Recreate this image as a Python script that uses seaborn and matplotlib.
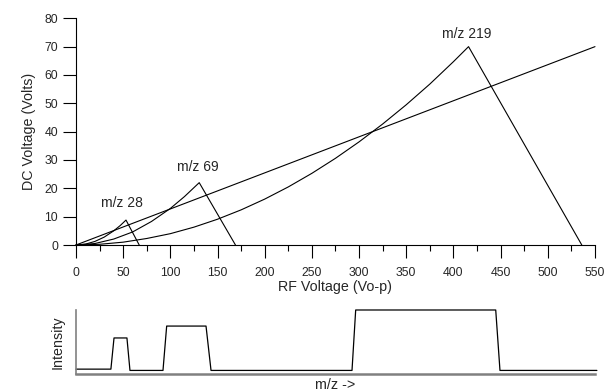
import matplotlib
matplotlib.use("Agg")
import matplotlib.pyplot as plt
import seaborn as sb
from matplotlib.ticker import MultipleLocator

# straight scan line
scan_x = [0, 550]
scan_y = [0, 70]

# stability regions (left edge curved, right edge straight)
mz28_x = [0, 10, 20, 30, 40, 47, 53, 67]
mz28_y = [0, 0.31, 1.25, 2.8, 5.0, 6.9, 8.8, 0]

mz69_x = [0, 20, 40, 60, 80, 100, 115, 130.6, 169]
mz69_y = [0, 0.52, 2.1, 4.6, 8.3, 12.9, 17.1, 22, 0]

mz219_x = [0, 25, 50, 75, 100, 125, 150, 175, 200, 225, 250, 275, 300, 325,
           350, 375, 400, 416, 536]
mz219_y = [0, 0.25, 1.0, 2.3, 4.0, 6.3, 9.1, 12.4, 16.2, 20.5, 25.3, 30.6,
           36.4, 42.7, 49.5, 56.8, 64.7, 70, 0]

labels = ["m/z 28", "m/z 69", "m/z 219"]
label_x = [49, 129, 414]
label_y = [14.8, 27.5, 74.5]

# mass spectrum trace
spec_x = [0, 37, 40.3, 54, 57.2, 92.2, 96.1, 137.8, 143.1, 292.5, 296.4,
          444.8, 449.3, 552]
spec_y = [0.08, 0.08, 0.565, 0.565, 0.06, 0.06, 0.75, 0.75, 0.06, 0.06,
          1.0, 1.0, 0.06, 0.06]


def main():
    sb.set_style("ticks")
    plt.rcParams["font.family"] = ["Liberation Sans", "DejaVu Sans"]
    fig = plt.figure(figsize=(6.04, 3.92), dpi=100)

    ax = fig.add_axes([0.1258, 0.375, 0.8593, 0.5783])
    for xs, ys in [(scan_x, scan_y), (mz28_x, mz28_y), (mz69_x, mz69_y),
                   (mz219_x, mz219_y)]:
        sb.lineplot(x=xs, y=ys, ax=ax, color="black", linewidth=0.8,
                    sort=False, estimator=None, clip_on=False)
    for t, x, y in zip(labels, label_x, label_y):
        ax.text(x, y, t, ha="center", va="center", fontsize=10)

    ax.set_xlim(0, 550)
    ax.set_ylim(0, 80)
    ax.xaxis.set_major_locator(MultipleLocator(50))
    ax.xaxis.set_minor_locator(MultipleLocator(25))
    ax.yaxis.set_major_locator(MultipleLocator(10))
    ax.tick_params(axis="x", which="major", length=9, width=0.8, pad=6.5,
                   labelsize=8.8, color="black")
    ax.tick_params(axis="x", which="minor", length=4.5, width=0.8, color="black")
    ax.tick_params(axis="y", which="major", length=9.4, width=0.8, pad=3.5,
                   labelsize=8.8, color="black")
    for s in ["top", "right"]:
        ax.spines[s].set_visible(False)
    for s in ["left", "bottom"]:
        ax.spines[s].set_linewidth(0.8)
        ax.spines[s].set_color("black")
    ax.set_xlabel("RF Voltage (Vo-p)", fontsize=10.3, labelpad=1)
    ax.set_ylabel("DC Voltage (Volts)", fontsize=10.3, labelpad=6)

    # spectrum panel
    ax2 = fig.add_axes([0.1258, 0.0452, 0.8593, 0.164])
    sb.lineplot(x=spec_x, y=spec_y, ax=ax2, color="black", linewidth=0.9,
                sort=False, estimator=None, clip_on=False)
    ax2.set_xlim(0, 550)
    ax2.set_ylim(0, 1)
    ax2.set_xticks([])
    ax2.set_yticks([])
    for s in ["top", "right"]:
        ax2.spines[s].set_visible(False)
    ax2.spines["left"].set_color("#808080")
    ax2.spines["left"].set_linewidth(1.2)
    ax2.spines["bottom"].set_color("#808080")
    ax2.spines["bottom"].set_linewidth(1.8)
    ax2.set_xlabel("m/z ->", fontsize=10.3, labelpad=3)
    ax2.set_ylabel("Intensity", fontsize=10.3, labelpad=8)

    fig.savefig("out.png", dpi=100)
    plt.close(fig)


if "__main__" == __name__:
    main()
